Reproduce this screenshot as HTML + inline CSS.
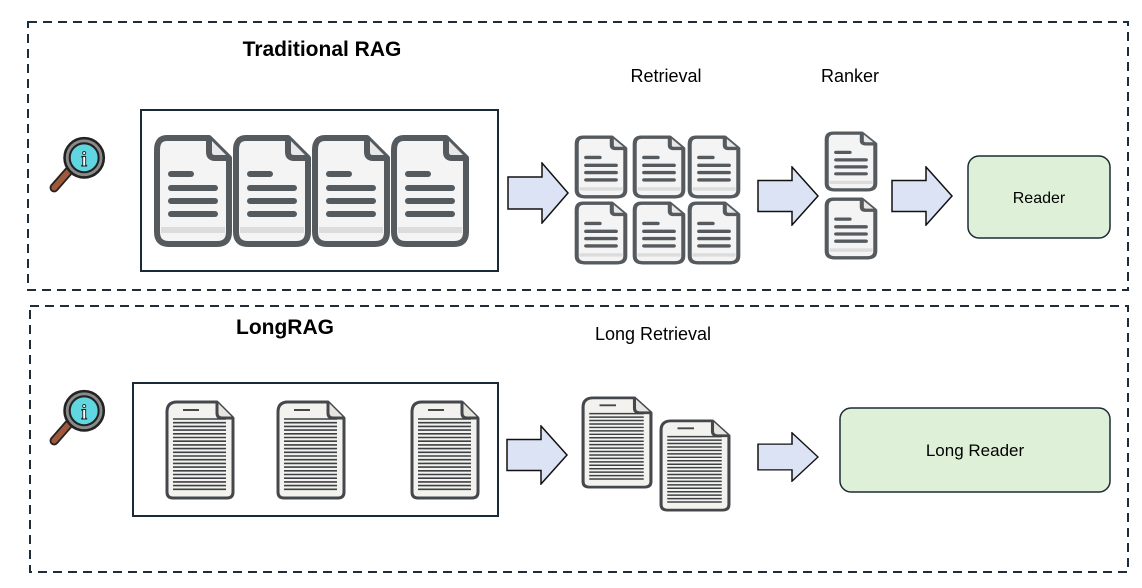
<!DOCTYPE html>
<html><head><meta charset="utf-8"><style>
html,body{margin:0;padding:0;background:#fff;}
svg{display:block;font-family:"Liberation Sans",Arial,sans-serif;}
</style></head><body>
<svg width="1142" height="588" viewBox="0 0 1142 588" xmlns="http://www.w3.org/2000/svg">
<defs>
<symbol id="doc" viewBox="0 0 80 114" preserveAspectRatio="none">
  <path d="M14,4 H56 L76,24 V98 Q76,110 64,110 H16 Q4,110 4,98 V16 Q4,4 14,4 Z" fill="#f4f4f4" stroke="#555a5e" stroke-width="6" stroke-linejoin="round"/>
  <path d="M8,96 H72" stroke="#dcdcdc" stroke-width="6"/>
  <path d="M56,4 V18 Q56,24 62,24 H76" fill="#e8e8e8" stroke="#555a5e" stroke-width="6" stroke-linejoin="round"/>
  <g stroke="#555a5e" stroke-width="6" stroke-linecap="round">
    <path d="M18,40 H38"/><path d="M18,54 H62"/><path d="M18,67 H62"/><path d="M18,80 H62"/>
  </g>
</symbol>
<symbol id="ldoc" viewBox="0 0 70 100" preserveAspectRatio="none">
  <path d="M12,2 H52 L68,18 V92 Q68,98 62,98 H8 Q2,98 2,92 V12 Q2,2 12,2 Z" fill="#f3f2ee" stroke="#44484c" stroke-width="3" stroke-linejoin="round"/>
  <path d="M52,2 V13 Q52,18 57,18 H68" fill="#e6e5e0" stroke="#44484c" stroke-width="3" stroke-linejoin="round"/>
  <path d="M18,10 H34" stroke="#44484c" stroke-width="2"/>
  <g stroke="#3c4044" stroke-width="1.6">
    <path d="M8,19 H61"/><path d="M8,22.7 H61"/><path d="M8,26.4 H61"/><path d="M8,30.1 H61"/><path d="M8,33.8 H61"/><path d="M8,37.5 H61"/><path d="M8,41.2 H61"/><path d="M8,44.9 H61"/><path d="M8,48.6 H61"/><path d="M8,52.3 H61"/><path d="M8,56 H61"/><path d="M8,59.7 H61"/><path d="M8,63.4 H61"/><path d="M8,67.1 H61"/><path d="M8,70.8 H61"/><path d="M8,74.5 H61"/><path d="M8,78.2 H61"/><path d="M8,81.9 H61"/><path d="M8,85.6 H61"/><path d="M8,89.3 H61"/>
  </g>
</symbol>
<symbol id="mag" viewBox="0 0 60 56">
  <path d="M20,34 L6,50" stroke="#222" stroke-width="9" stroke-linecap="round"/>
  <path d="M20,34 L6,50" stroke="#a0583a" stroke-width="5.5" stroke-linecap="round"/>
  <circle cx="35" cy="21" r="19" fill="#8a8a8a" stroke="#222" stroke-width="2.5"/>
  <circle cx="35" cy="21" r="14" fill="#5fd6e0" stroke="#222" stroke-width="2"/>
  <text x="35" y="29" font-size="20" font-family="Liberation Serif,serif" font-weight="bold" text-anchor="middle" fill="#fff" stroke="#222" stroke-width="0.9">i</text>
</symbol>
<symbol id="arr" viewBox="0 0 62 62" preserveAspectRatio="none">
  <path d="M1,15 H35 V1 L61,31 L35,61 V47 H1 Z" fill="#dbe3f5" stroke="#111" stroke-width="1.5"/>
</symbol>
</defs>

<rect x="28" y="22" width="1100" height="268" fill="none" stroke="#1f2d3a" stroke-width="2" stroke-dasharray="9,6"/>
<rect x="30" y="306" width="1098" height="266" fill="none" stroke="#1f2d3a" stroke-width="2" stroke-dasharray="9,6"/>

<text x="322" y="56" font-size="21" font-weight="bold" text-anchor="middle">Traditional RAG</text>
<text x="666" y="82" font-size="18" text-anchor="middle">Retrieval</text>
<text x="850" y="82" font-size="18" text-anchor="middle">Ranker</text>
<text x="285" y="334" font-size="21" font-weight="bold" text-anchor="middle">LongRAG</text>
<text x="653" y="340" font-size="18" text-anchor="middle">Long Retrieval</text>

<use href="#mag" x="48" y="136" width="62" height="58"/>
<use href="#mag" x="48" y="389" width="62" height="58"/>

<rect x="141" y="110" width="357" height="161" fill="#fff" stroke="#1a2a36" stroke-width="2"/>
<use href="#doc" x="153" y="134" width="80" height="114"/>
<use href="#doc" x="232" y="134" width="80" height="114"/>
<use href="#doc" x="311" y="134" width="80" height="114"/>
<use href="#doc" x="390" y="134" width="80" height="114"/>

<use href="#arr" x="507" y="162" width="62" height="62"/>
<use href="#doc" x="574" y="135" width="54" height="64"/>
<use href="#doc" x="632" y="135" width="54" height="64"/>
<use href="#doc" x="687" y="135" width="54" height="64"/>
<use href="#doc" x="574" y="201" width="54" height="64"/>
<use href="#doc" x="632" y="201" width="54" height="64"/>
<use href="#doc" x="687" y="201" width="54" height="64"/>

<use href="#arr" x="757" y="166" width="62" height="60"/>
<use href="#doc" x="824" y="131" width="54" height="61"/>
<use href="#doc" x="824" y="197" width="54" height="63"/>

<use href="#arr" x="891" y="166" width="62" height="60"/>
<rect x="968" y="156" width="142" height="82" rx="11" fill="#dff0d8" stroke="#1a2a36" stroke-width="1.5"/>
<text x="1039" y="203" font-size="16" text-anchor="middle">Reader</text>

<rect x="133" y="383" width="365" height="133" fill="#fff" stroke="#1a2a36" stroke-width="2"/>
<use href="#ldoc" x="165" y="400" width="70" height="100"/>
<use href="#ldoc" x="276" y="400" width="70" height="100"/>
<use href="#ldoc" x="410" y="400" width="70" height="100"/>

<use href="#arr" x="506" y="425" width="62" height="60"/>
<use href="#ldoc" x="581" y="396" width="72" height="93"/>
<use href="#ldoc" x="659" y="419" width="72" height="93"/>

<use href="#arr" x="757" y="432" width="62" height="50"/>
<rect x="840" y="408" width="270" height="84" rx="11" fill="#dff0d8" stroke="#1a2a36" stroke-width="1.5"/>
<text x="975" y="456" font-size="17" text-anchor="middle">Long Reader</text>
</svg>
</body></html>
